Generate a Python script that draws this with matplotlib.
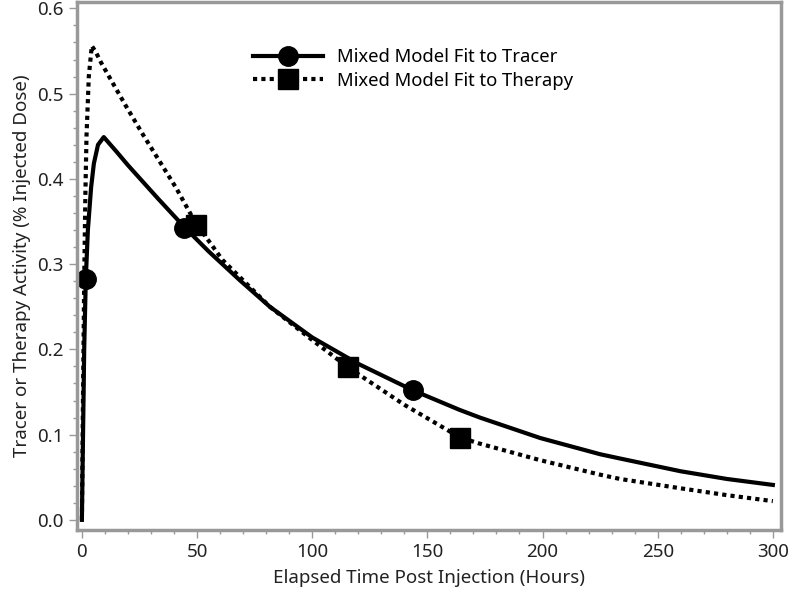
import matplotlib
matplotlib.use("Agg")
import matplotlib.pyplot as plt
from matplotlib.ticker import MultipleLocator, FormatStrFormatter

# values
tracer_t = [0, 0.5, 1.0, 1.7, 2.6, 4, 5.2, 7, 9.5, 15, 20, 25, 33, 45, 55, 68.6, 81.6,
            100, 120, 143.7, 164, 172.8, 199, 225, 233.6, 260, 280, 300]
tracer_v = [0.0, 0.10, 0.20, 0.283, 0.34, 0.39, 0.418, 0.44, 0.449, 0.432, 0.416, 0.401,
            0.377, 0.342, 0.315, 0.281, 0.250, 0.214, 0.183, 0.152, 0.129, 0.120, 0.096,
            0.077, 0.072, 0.057, 0.048, 0.041]

therapy_t = [0, 0.5, 1, 1.5, 2, 3, 4.3, 6, 8.2, 12, 19, 26.5, 33.4, 41, 49, 61, 81.6,
             100, 115.5, 140, 164, 172, 199, 225, 233.6, 260, 280, 300]
therapy_v = [0.0, 0.15, 0.28, 0.38, 0.45, 0.52, 0.556, 0.549, 0.537, 0.519, 0.486, 0.452,
             0.422, 0.389, 0.350, 0.305, 0.250, 0.211, 0.179, 0.135, 0.097, 0.090, 0.070,
             0.053, 0.048, 0.037, 0.029, 0.022]

tracer_pts_t = [1.7, 44.5, 143.7]
tracer_pts_v = [0.283, 0.342, 0.152]
therapy_pts_t = [49.5, 115.5, 164]
therapy_pts_v = [0.346, 0.179, 0.096]

plt.rcParams['font.family'] = ['Noto Sans', 'DejaVu Sans']

fig = plt.figure(figsize=(7.92, 5.96), dpi=100)
ax = fig.add_axes([0.097, 0.111, 0.889, 0.885])

ax.plot(tracer_t, tracer_v, color='black', lw=3, solid_joinstyle='round')
ax.plot(therapy_t, therapy_v, color='black', lw=3, ls=(0, (1, 1)))
ax.plot(tracer_pts_t, tracer_pts_v, 'o', color='black', ms=14, ls='none')
ax.plot(therapy_pts_t, therapy_pts_v, 's', color='black', ms=14, ls='none')

# legend proxies
h1, = ax.plot([], [], color='black', lw=3, marker='o', ms=14)
h2, = ax.plot([], [], color='black', lw=3, ls=(0, (1, 1)), marker='s', ms=14)
ax.legend([h1, h2], ["Mixed Model Fit to Tracer", "Mixed Model Fit to Therapy"],
          loc='upper left', bbox_to_anchor=(0.226, 0.945), frameon=False,
          handlelength=3.8, fontsize=13.3, labelspacing=0.3, handletextpad=0.75)

ax.set_xlim(-2.2, 303.5)
ax.set_ylim(-0.0117, 0.607)
ax.xaxis.set_major_locator(MultipleLocator(50))
ax.xaxis.set_minor_locator(MultipleLocator(10))
ax.yaxis.set_major_locator(MultipleLocator(0.1))
ax.yaxis.set_minor_locator(MultipleLocator(0.02))
ax.yaxis.set_major_formatter(FormatStrFormatter('%.1f'))

grey = '#999999'
for s in ax.spines.values():
    s.set_color(grey)
    s.set_linewidth(2.5)
ax.tick_params(which='major', length=6, width=1, color=grey, labelsize=13.5, labelcolor='#222222')
ax.tick_params(which='minor', length=3, width=1, color=grey)

ax.set_xlabel("Elapsed Time Post Injection (Hours)", fontsize=13.5, color='#222222', labelpad=6)
ax.set_ylabel("Tracer or Therapy Activity (% Injected Dose)", fontsize=13.5, color='#222222', labelpad=4)

fig.savefig("out.png", dpi=100)
